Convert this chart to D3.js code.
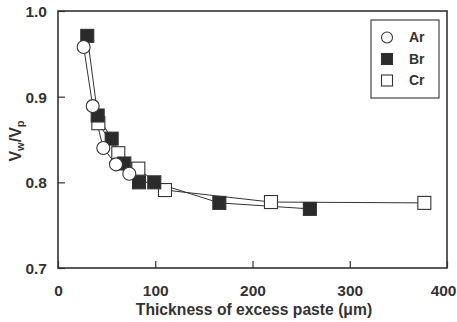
<!DOCTYPE html>
<html><head><meta charset="utf-8">
<script src="https://cdn.jsdelivr.net/npm/d3@7/dist/d3.min.js"></script>
<style>body{margin:0;background:#fff}svg{display:block}text{font-family:"Liberation Sans",Arial,sans-serif;font-weight:bold;fill:#333}</style>
</head><body><svg id="c" width="457" height="322"></svg>
<script>
const arX = [26.4, 35.7, 46.6, 59.6, 73.3];
const arY = [0.958, 0.889, 0.840, 0.821, 0.810];
const brX = [30.1, 40.8, 55.2, 68.2, 83.3, 99.0, 165.9, 259.0];
const brY = [0.971, 0.878, 0.851, 0.822, 0.800, 0.800, 0.776, 0.769];
const crX = [41.5, 62.0, 82.6, 110.0, 219.0, 376.7];
const crY = [0.869, 0.834, 0.816, 0.791, 0.777, 0.776];
const xTicks = [0, 100, 200, 300, 400];
const yTicks = [0.7, 0.8, 0.9, 1.0];
const seriesNames = ["Ar", "Br", "Cr"];

const svg = d3.select("#c");
const col = "#333";
const x = d3.scaleLinear().domain([0, 400]).range([58, 447]);
const y = d3.scaleLinear().domain([0.7, 1.0]).range([268, 11]);

const xa = svg.append("g").attr("transform", "translate(0,268)")
  .call(d3.axisBottom(x).tickValues(xTicks).tickSize(-7).tickPadding(17).tickFormat(d3.format("d")));
const ya = svg.append("g").attr("transform", "translate(58,0)")
  .call(d3.axisLeft(y).tickValues(yTicks).tickSize(-7).tickPadding(11).tickFormat(d3.format(".1f")));
[xa, ya].forEach(a => {
  a.select(".domain").remove();
  a.selectAll("line").attr("stroke", col).attr("stroke-width", 1.2);
  a.selectAll("text").attr("font-size", 15.5).attr("fill", col).style("font-weight", "bold");
});
ya.selectAll("text").attr("dy", "0.35em");
// keep the last x tick label inside the window
xa.selectAll(".tick").filter(d => d === 400).select("text").attr("text-anchor", "end").attr("x", 9);

svg.append("rect").attr("x", x(0)).attr("y", y(1.0)).attr("width", x(400) - x(0)).attr("height", y(0.7) - y(1.0))
  .attr("fill", "none").attr("stroke", col).attr("stroke-width", 1.6);

const series = [
  {name: "Cr", xs: crX, ys: crY, type: "open"},
  {name: "Br", xs: brX, ys: brY, type: "filled"},
  {name: "Ar", xs: arX, ys: arY, type: "circle"}
];
const line = d3.line().x(d => x(d[0])).y(d => y(d[1]));
series.forEach(s => {
  const pts = s.xs.map((v, i) => [v, s.ys[i]]);
  svg.append("path").attr("d", line(pts)).attr("fill", "none").attr("stroke", col).attr("stroke-width", 1);
});
const sz = 13;
function marker(g, type, cx, cy) {
  if (type === "circle") {
    g.append("circle").attr("cx", cx).attr("cy", cy).attr("r", 6.5).attr("fill", "#fff").attr("stroke", col).attr("stroke-width", 1.1);
  } else {
    g.append("rect").attr("x", cx - sz / 2).attr("y", cy - sz / 2).attr("width", sz).attr("height", sz)
      .attr("fill", type === "filled" ? "#2b2b2b" : "#fff").attr("stroke", col).attr("stroke-width", 1.1);
  }
}
series.forEach(s => {
  const g = svg.append("g");
  s.xs.forEach((v, i) => marker(g, s.type, x(v), y(s.ys[i])));
});

const lg = svg.append("g");
lg.append("rect").attr("x", 371).attr("y", 20).attr("width", 68).attr("height", 78)
  .attr("fill", "#fff").attr("stroke", col).attr("stroke-width", 1.1);
const ltypes = {Ar: "circle", Br: "filled", Cr: "open"};
seriesNames.forEach((n, i) => {
  const cy = 37.5 + i * 21.5;
  if (ltypes[n] === "circle") {
    lg.append("circle").attr("cx", 387).attr("cy", cy).attr("r", 5.5).attr("fill", "#fff").attr("stroke", col).attr("stroke-width", 1.1);
  } else {
    lg.append("rect").attr("x", 381.5).attr("y", cy - 5.5).attr("width", 11).attr("height", 11)
      .attr("fill", ltypes[n] === "filled" ? "#2b2b2b" : "#fff").attr("stroke", col).attr("stroke-width", 1.1);
  }
  lg.append("text").attr("x", 409).attr("y", cy).attr("dy", "0.35em").attr("font-size", 14).text(n);
});

svg.append("text").attr("x", 254).attr("y", 315).attr("text-anchor", "middle").attr("font-size", 15.7)
  .text("Thickness of excess paste (μm)");
const yl = svg.append("text").attr("transform", "translate(21,141) rotate(-90)").attr("text-anchor", "middle").attr("font-size", 16);
yl.append("tspan").text("V");
yl.append("tspan").attr("font-size", 11).attr("dy", 3).text("w");
yl.append("tspan").attr("dy", -3).text("/V");
yl.append("tspan").attr("font-size", 11).attr("dy", 3).text("p");
</script></body></html>
